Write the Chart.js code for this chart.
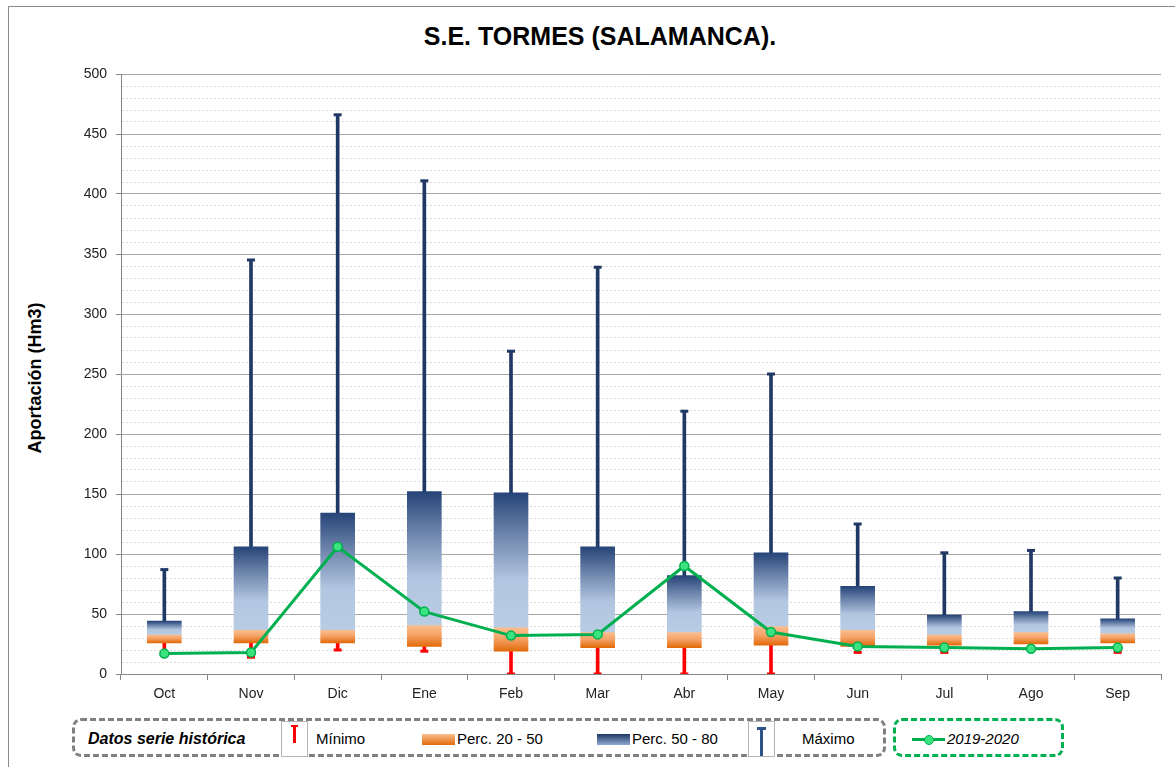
<!DOCTYPE html>
<html lang="es">
<head>
<meta charset="utf-8">
<title>S.E. TORMES (SALAMANCA).</title>
<script src="https://cdn.jsdelivr.net/npm/chart.js@4.4.1/dist/chart.umd.min.js"></script>
<style>
  body { margin: 0; background: #fff; font-family: "Liberation Sans", Arial, sans-serif; }
  #page { position: relative; width: 1175px; height: 767px; overflow: hidden; }
  #frame { position: absolute; left: 8px; top: 6px; width: 1200px; height: 800px;
           border-left: 1px solid #8c8c8c; border-top: 1px solid #8c8c8c; }
  #chart-wrap { position: absolute; left: 0; top: 0; width: 1175px; height: 710px; }
  #title { position: absolute; left: 0; width: 1200px; top: 22px; text-align: center;
           font-weight: bold; font-size: 25px; color: #000; }
  #ytitle { position: absolute; left: 35px; top: 378px; transform: translate(-50%, -50%) rotate(-90deg);
            font-weight: bold; font-size: 18px; white-space: nowrap; color: #000; }
  .box { position: absolute; top: 718px; height: 33px; border-radius: 9px; box-sizing: content-box; }
  #hist-box { left: 72px; width: 808px; border: 3px dashed #808080; }
  #cur-box { left: 893px; width: 165px; border: 3px dashed #00b050; }
  .lg { position: absolute; top: 730px; font-size: 15px; color: #000; white-space: nowrap; }
  .icon { position: absolute; top: 721px; width: 25px; height: 34px; border: 1px solid #b5b5b5; background: #fff; }
  .swatch { position: absolute; top: 734px; width: 33px; height: 11px; }
</style>
</head>
<body>
<div id="page">
  <div id="frame"></div>
  <div id="title">S.E. TORMES (SALAMANCA).</div>
  <div id="ytitle">Aportación (Hm3)</div>
  <div id="chart-wrap"><canvas id="chart"></canvas></div>

  <div id="hist-box" class="box"></div>
  <div id="cur-box" class="box"></div>

  <div class="lg" style="left:88px; font-weight:bold; font-style:italic; font-size:16px;">Datos serie histórica</div>

  <div class="icon" style="left:281px;">
    <div style="position:absolute; left:9px; top:3px; width:7px; height:2px; background:#ff0000;"></div>
    <div style="position:absolute; left:11px; top:3px; width:3px; height:18px; background:#ff0000;"></div>
  </div>
  <div class="lg" style="left:316px;">Mínimo</div>

  <div class="swatch" style="left:422px; background:linear-gradient(#fac090, #e26b0a);"></div>
  <div class="lg" style="left:457px;">Perc. 20 - 50</div>

  <div class="swatch" style="left:597px; background:linear-gradient(#1f3864, #8ea9cf);"></div>
  <div class="lg" style="left:632px;">Perc. 50 - 80</div>

  <div class="icon" style="left:748px;">
    <div style="position:absolute; left:8px; top:5px; width:9px; height:3px; background:#2e5487;"></div>
    <div style="position:absolute; left:11px; top:5px; width:3px; height:29px; background:#2e5487;"></div>
  </div>
  <div class="lg" style="left:802px;">Máximo</div>

  <div style="position:absolute; left:912px; top:738px; width:33px; height:3px; background:#00b050;"></div>
  <div style="position:absolute; left:924px; top:735px; width:8px; height:8px; border-radius:50%; background:#3be37f; border:1px solid #00b050;"></div>
  <div class="lg" style="left:947px; font-style:italic;">2019-2020</div>
</div>

<script>
"use strict";

const MONTHS = ["Oct", "Nov", "Dic", "Ene", "Feb", "Mar", "Abr", "May", "Jun", "Jul", "Ago", "Sep"];
const MINIMO = [17, 14, 20, 19, 0, 0, 0, 0, 18, 18, 21, 18];
const PERC_20 = [26, 26, 26, 23, 19, 22, 22, 24, 23, 24, 25, 26];
const PERC_50 = [33, 37, 37, 41, 39, 35, 35, 40, 37, 33, 35, 34];
const PERC_80 = [44, 106, 134, 152, 151, 106, 82, 101, 73, 49, 52, 46];
const MAXIMO = [87, 345, 466, 411, 269, 339, 219, 250, 125, 101, 103, 80];
const SERIE_2019_2020 = [17, 18, 106, 52, 32, 33, 90, 35, 23, 22, 21, 22];

const NAVY = "#1f3864";
const RED = "#ff0000";
const GREEN = "#00b050";

function pairs(lo, hi) {
  return lo.map((v, i) => [v, hi[i]]);
}

// vertical gradient spanning a floating bar
function gradientFill(stops, fallback) {
  return (ctx) => {
    const chart = ctx.chart;
    const y = chart.scales && chart.scales.y;
    if (!chart.chartArea || !y || !Array.isArray(ctx.raw)) {
      return fallback;
    }
    const top = y.getPixelForValue(ctx.raw[1]);
    const bottom = y.getPixelForValue(ctx.raw[0]);
    if (!isFinite(top) || !isFinite(bottom) || top === bottom) {
      return fallback;
    }
    const g = chart.ctx.createLinearGradient(0, top, 0, bottom);
    stops.forEach(([o, c]) => g.addColorStop(o, c));
    return g;
  };
}

const blueFill = gradientFill([[0, "#264478"], [0.3, "#6b83aa"], [0.65, "#b3c6e1"], [1, "#b8cce4"]], "#8ea9cf");
const orangeFill = gradientFill([[0, "#fac090"], [0.45, "#f5a46a"], [1, "#e26b0a"]], "#f5a46a");

function renderChart() {
  const canvas = document.getElementById("chart");
  const tickFont = { family: "'Liberation Sans', Arial, sans-serif", size: 14 };

  new Chart(canvas, {
    type: "bar",
    data: {
      labels: MONTHS,
      datasets: [
        {
          type: "line",
          label: "2019-2020",
          data: SERIE_2019_2020,
          borderColor: GREEN,
          borderWidth: 3,
          pointRadius: 4.5,
          pointBackgroundColor: "#3be37f",
          pointBorderColor: GREEN,
          pointBorderWidth: 1.5,
          tension: 0,
          order: 0,
        },
        {
          type: "line",
          label: "Máximo",
          data: MAXIMO,
          showLine: false,
          pointStyle: "line",
          pointRadius: 4,
          pointBorderWidth: 3,
          pointBorderColor: NAVY,
          order: 1,
        },
        {
          type: "line",
          label: "Mínimo",
          data: MINIMO,
          showLine: false,
          pointStyle: "line",
          pointRadius: 4,
          pointBorderWidth: 3,
          pointBorderColor: RED,
          order: 1,
        },
        {
          label: "Perc. 50 - 80",
          data: pairs(PERC_50, PERC_80),
          backgroundColor: blueFill,
          barThickness: 34,
          grouped: false,
          order: 2,
        },
        {
          label: "Perc. 20 - 50",
          data: pairs(PERC_20, PERC_50),
          backgroundColor: orangeFill,
          barThickness: 34,
          grouped: false,
          order: 2,
        },
        {
          label: "Máximo whisker",
          data: pairs(PERC_80, MAXIMO),
          backgroundColor: NAVY,
          barThickness: 3,
          grouped: false,
          order: 3,
        },
        {
          label: "Mínimo whisker",
          data: pairs(MINIMO, PERC_20),
          backgroundColor: RED,
          barThickness: 3,
          grouped: false,
          order: 3,
        },
      ],
    },
    options: {
      responsive: true,
      maintainAspectRatio: false,
      animation: false,
      layout: { padding: { left: 0, right: 14, top: 74, bottom: 0 } },
      plugins: {
        legend: { display: false },
        tooltip: { enabled: false },
        title: { display: false },
      },
      scales: {
        x: {
          offset: true,
          afterFit: (scale) => { scale.height = 36; },
          grid: {
            offset: true,
            drawOnChartArea: false,
            tickLength: 6,
            color: "#868686",
          },
          border: { color: "#868686", width: 1 },
          ticks: { font: tickFont, color: "#222", padding: 6, maxRotation: 0 },
        },
        y: {
          min: 0,
          max: 500,
          afterFit: (scale) => { scale.width = 121; },
          ticks: {
            stepSize: 10,
            autoSkip: false,
            font: tickFont,
            color: "#222",
            padding: 9,
            callback: (v) => (v % 50 === 0 ? String(v) : ""),
          },
          grid: {
            tickLength: 5,
            color: (c) => (c.tick && c.tick.value % 50 === 0 ? "#a6a6a6" : "#d9d9d9"),
            tickColor: (c) => (c.tick && c.tick.value % 50 === 0 ? "#868686" : "rgba(0,0,0,0)"),
            lineWidth: 1,
          },
          border: {
            color: "#868686",
            width: 1,
            dash: (c) => (c.tick && c.tick.value % 50 === 0 ? [] : [2, 2]),
          },
        },
      },
    },
  });
}

document.addEventListener("DOMContentLoaded", renderChart);
</script>
</body>
</html>
